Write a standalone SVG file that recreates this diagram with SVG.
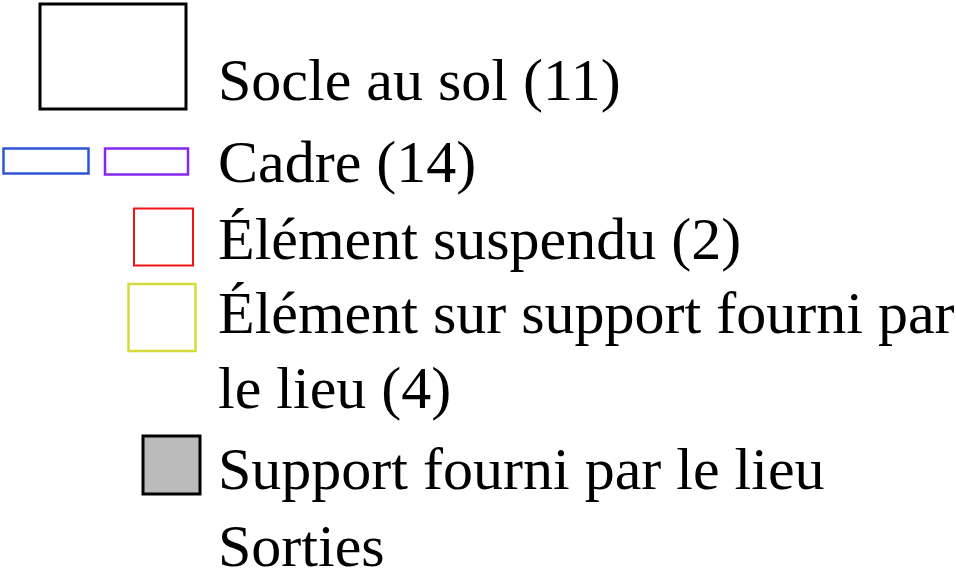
<svg xmlns="http://www.w3.org/2000/svg" width="956" height="586" viewBox="0 0 956 586">
<style>
text{font-family:"Liberation Serif","Times New Roman",serif;font-size:60px;fill:#000}
rect{fill:#fff}
</style>
<rect width="956" height="586" fill="#fff"/>
<g id="socle"><rect x="40" y="4" width="146" height="105" stroke="#000" stroke-width="3"/><text x="218" y="100">Socle au sol (11)</text></g>
<g id="cadre"><rect x="3.5" y="148.5" width="85" height="25" stroke="#2f54d6" stroke-width="2.5"/><rect x="105" y="148.5" width="83" height="26" stroke="#8428f0" stroke-width="2.5"/><text x="218" y="182">Cadre (14)</text></g>
<g id="suspendu"><rect x="134" y="208.5" width="59" height="57" stroke="#f01414" stroke-width="2"/><text x="218" y="259">Élément suspendu (2)</text></g>
<g id="surSupport"><rect x="128.5" y="284" width="67" height="67" stroke="#d4dc3c" stroke-width="2.5"/><text x="218" y="333">Élément sur support fourni par</text><text x="218" y="408">le lieu (4)</text></g>
<g id="support"><rect x="143" y="436" width="57" height="58" fill="#bbbbbb" style="fill:#bbbbbb" stroke="#000" stroke-width="3"/><text x="218" y="489">Support fourni par le lieu</text></g>
<g id="sorties"><text x="218" y="566">Sorties</text></g>
<g id="connectors"/>
</svg>
